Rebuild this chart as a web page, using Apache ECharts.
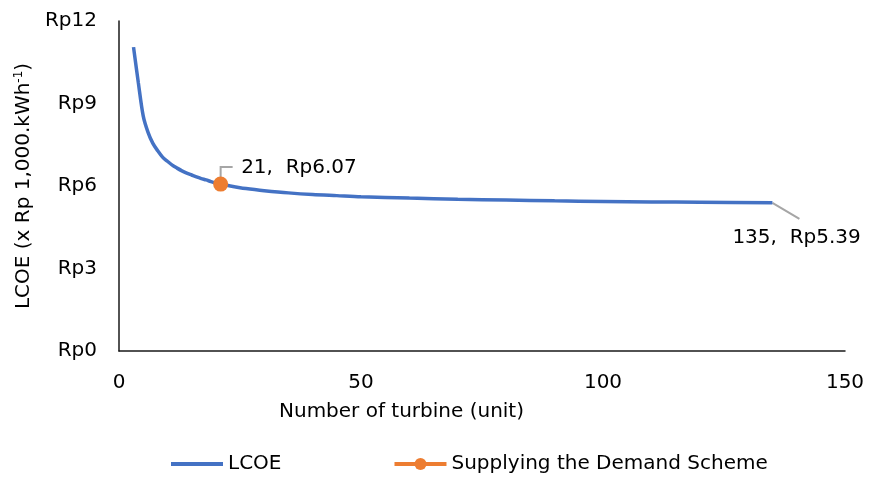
<!DOCTYPE html>
<html><head><meta charset="utf-8">
<script src="https://cdn.jsdelivr.net/npm/echarts@6/dist/echarts.min.js"></script>
<style>html,body{margin:0;padding:0;background:#fff}#c{width:869px;height:479px}</style>
</head><body><div id="c"></div>
<script>
var turbines = [3,4,5,6,7,8,9,10,11,12,13,14,15,16,17,18,19,20,21,23,25,28,30,35,40,45,50,60,70,80,90,100,110,120,135];
var lcoe = [11.05,9.75,8.55,7.95,7.55,7.28,7.05,6.90,6.76,6.65,6.55,6.47,6.40,6.33,6.27,6.22,6.16,6.11,6.07,6.00,5.94,5.87,5.83,5.75,5.69,5.65,5.61,5.56,5.52,5.49,5.46,5.44,5.42,5.41,5.39];
var schemeX = [21];
var schemeY = [6.07];

var FONT = 'DejaVu Sans';
var FS = 20;
function lab(p){ return p.value[0] + ',  Rp' + p.value[1].toFixed(2); }
var chart = echarts.init(document.getElementById('c'));
chart.setOption({
  animation:false,
  grid:{left:119, right:24, top:21, bottom:128, containLabel:false, outerBoundsMode:'none'},
  xAxis:{type:'value', min:0, max:150, interval:50,
    name:'Number of turbine (unit)', nameLocation:'middle', nameGap:51,
    nameTextStyle:{color:'#000', fontFamily:FONT, fontSize:FS, padding:[0,161,0,0]},
    axisLine:{show:true, lineStyle:{color:'#1a1a1a', width:1.5}},
    axisTick:{show:false}, splitLine:{show:false},
    axisLabel:{color:'#000', fontFamily:FONT, fontSize:FS, margin:22}},
  yAxis:{type:'value', min:0, max:12, interval:3,
    name:'{a|LCOE (x Rp 1,000.kWh}{s|-1}{a|)}', nameLocation:'middle', nameGap:84,
    nameTextStyle:{rich:{a:{color:'#000', fontFamily:FONT, fontSize:FS}, s:{color:'#000', fontFamily:FONT, fontSize:12, verticalAlign:'top', padding:[0,0,10,0]}}},
    axisLine:{show:true, lineStyle:{color:'#1a1a1a', width:1.5}},
    axisTick:{show:false}, splitLine:{show:false},
    axisLabel:{color:'#000', fontFamily:FONT, fontSize:FS, margin:22,
      formatter:function(v){return 'Rp'+v;}}},
  legend:{top:449, left:166, itemGap:111, itemWidth:52, itemHeight:15,
    textStyle:{color:'#000', fontFamily:FONT, fontSize:FS},
    data:[{name:'LCOE', icon:'path://M0,0 L52,0 L52,4 L0,4 Z', itemStyle:{color:'#4472C4'}}, {name:'Supplying the Demand Scheme', lineStyle:{width:4}}]},
  series:[
    {name:'LCOE', type:'line', data:turbines.map(function(t,i){return [t, lcoe[i]];}),
      showSymbol:false, symbol:'none', smooth:0.3,
      lineStyle:{color:'#4472C4', width:3.5}, itemStyle:{color:'#4472C4'}, z:2,
      endLabel:{show:true, formatter:lab, color:'#000', fontFamily:FONT, fontSize:FS, distance:0, offset:[-40,35]}},
    {name:'Supplying the Demand Scheme', type:'line', symbol:'circle', symbolSize:15,
      data:schemeX.map(function(x,i){return [x, schemeY[i]];}),
      lineStyle:{color:'#ED7D31', width:3.5}, itemStyle:{color:'#ED7D31'},
      label:{show:true, position:'right', distance:0, offset:[13,-16], color:'#000', fontFamily:FONT, fontSize:FS,
        formatter:lab}, z:3}
  ]
});
// leader lines, anchored on data points
var pS = chart.convertToPixel({gridIndex:0}, [schemeX[0], schemeY[0]]);
var pE = chart.convertToPixel({gridIndex:0}, [turbines[turbines.length-1], lcoe[lcoe.length-1]]);
chart.setOption({graphic:[
  {type:'polyline', silent:true, z:1, shape:{points:[[pS[0], pS[1]-6],[pS[0], pS[1]-17],[pS[0]+12, pS[1]-17]]}, style:{stroke:'#a6a6a6', lineWidth:2, fill:null}},
  {type:'polyline', silent:true, z:1, shape:{points:[[pE[0], pE[1]],[pE[0]+27, pE[1]+16]]}, style:{stroke:'#a6a6a6', lineWidth:2, fill:null}}
]});
</script></body></html>
